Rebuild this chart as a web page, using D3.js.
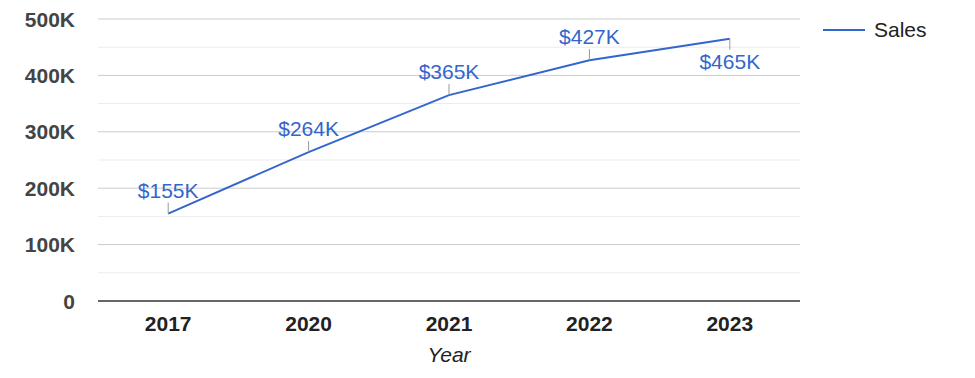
<!DOCTYPE html>
<html><head><meta charset="utf-8">
<script src="https://cdn.jsdelivr.net/npm/d3@7"></script>
<style>body{margin:0;background:#fff}svg{display:block;font-family:Arial,"Liberation Sans",sans-serif}</style>
</head><body>
<svg id="c" width="975" height="378"></svg>
<script>
const years = ["2017","2020","2021","2022","2023"];
const sales = [155000, 264000, 365000, 427000, 465000];
const labels = ["$155K","$264K","$365K","$427K","$465K"];
const majorTicks = [0,100000,200000,300000,400000,500000];
const majorTickLabels = ["0","100K","200K","300K","400K","500K"];
const minorTicks = [50000,150000,250000,350000,450000];
const seriesName = "Sales";
const axisTitle = "Year";

const svg = d3.select("#c");
const L = 98, R = 800, T = 19, B = 301;
const blue = "#3366cc";
const x = d3.scaleBand().domain(years).range([L, R]);
const y = d3.scaleLinear().domain([0, 500000]).range([B, T]);

svg.append("g").selectAll("line").data(minorTicks).join("line")
  .attr("x1", L).attr("x2", R).attr("y1", d => y(d)).attr("y2", d => y(d))
  .attr("stroke", "#ebebeb").attr("stroke-width", 1);
svg.append("g").selectAll("line").data(majorTicks.filter(d => d > 0)).join("line")
  .attr("x1", L).attr("x2", R).attr("y1", d => y(d)).attr("y2", d => y(d))
  .attr("stroke", "#cccccc").attr("stroke-width", 1);
svg.append("line").attr("x1", L).attr("x2", R).attr("y1", y(0)).attr("y2", y(0))
  .attr("stroke", "#333").attr("stroke-width", 1.3);

svg.append("g").selectAll("text").data(majorTicks).join("text")
  .attr("x", 75).attr("y", d => y(d)).attr("dy", "0.36em")
  .attr("text-anchor", "end").attr("font-size", 21).attr("font-weight", "bold")
  .attr("fill", "#444").text((d, i) => majorTickLabels[i]);

svg.append("g").selectAll("text").data(years).join("text")
  .attr("x", d => x(d) + x.bandwidth() / 2).attr("y", 331)
  .attr("text-anchor", "middle").attr("font-size", 21).attr("font-weight", "bold")
  .attr("fill", "#222").text(d => d);

svg.append("text").attr("x", (L + R) / 2).attr("y", 362)
  .attr("text-anchor", "middle").attr("font-size", 21).attr("font-style", "italic")
  .attr("fill", "#222").text(axisTitle);

const cx = d => x(d) + x.bandwidth() / 2;
const line = d3.line().x((d, i) => cx(years[i])).y(d => y(d));
svg.append("path").datum(sales).attr("d", line)
  .attr("fill", "none").attr("stroke", blue).attr("stroke-width", 2);

const below = i => i === sales.length - 1;
svg.append("g").selectAll("line").data(sales).join("line")
  .attr("x1", (d, i) => cx(years[i])).attr("x2", (d, i) => cx(years[i]))
  .attr("y1", d => y(d)).attr("y2", (d, i) => below(i) ? y(d) + 11 : y(d) - 11)
  .attr("stroke", "#999").attr("stroke-width", 1);
svg.append("g").selectAll("text").data(sales).join("text")
  .attr("x", (d, i) => cx(years[i]))
  .attr("y", (d, i) => below(i) ? y(d) + 30 : y(d) - 16)
  .attr("text-anchor", "middle").attr("font-size", 21).attr("fill", blue)
  .text((d, i) => labels[i]);

svg.append("line").attr("x1", 823).attr("x2", 865).attr("y1", 30).attr("y2", 30)
  .attr("stroke", blue).attr("stroke-width", 2);
svg.append("text").attr("x", 874).attr("y", 37).attr("font-size", 21)
  .attr("fill", "#222").text(seriesName);
</script>
</body></html>
